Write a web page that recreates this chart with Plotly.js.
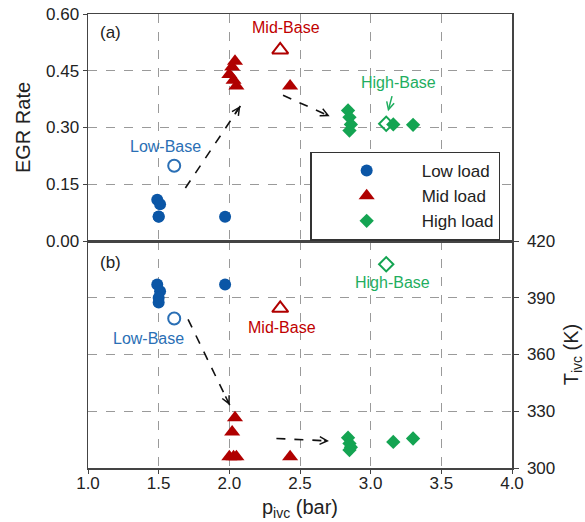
<!DOCTYPE html>
<html>
<head>
<meta charset="utf-8">
<script src="https://cdn.plot.ly/plotly-3.0.1.min.js"></script>
<style>html,body{margin:0;padding:0;background:#fff;}#chart{width:585px;height:522px;}</style>
</head>
<body>
<div id="chart"></div>
<script>
// ---- data ----
var lowP   = [1.49, 1.51, 1.50, 1.50, 1.97];
var lowEGR = [0.109, 0.097, 0.064, 0.065, 0.064];
var lowT   = [397, 393.5, 390, 387.5, 397];

var midP   = [2.04, 2.02, 2.00, 2.03, 2.05, 2.43];
var midEGR = [0.475, 0.46, 0.44, 0.425, 0.41, 0.41];
var midT   = [326.5, 319, 306, 306, 306, 306];

var highP   = [2.84, 2.85, 2.86, 2.85, 3.16, 3.30];
var highEGR = [0.345, 0.327, 0.308, 0.292, 0.308, 0.307];
var highT   = [316, 313, 311, 309.5, 313.8, 315.6];

var baseNames = ["Low-Base", "Mid-Base", "High-Base"];
var baseP     = [1.61, 2.36, 3.11];
var baseEGR   = [0.199, 0.505, 0.310];
var baseT     = [379, 384.4, 407.7];

var seriesNames = ["Low load", "Mid load", "High load"];
var xTicks = [1.0, 1.5, 2.0, 2.5, 3.0, 3.5, 4.0];
var egrTicks = [0.00, 0.15, 0.30, 0.45, 0.60];
var tTicks = [300, 330, 360, 390, 420];

// label positions (data coords) for the "Base" texts
var labEGRpos = [[1.549, 0.250], [2.398, 0.565], [3.199, 0.419]];
var labTpos   = [[1.43, 368.5], [2.371, 374.1], [3.157, 397.9]];

// dashed trend arrows: [tailX, tailY, headX, headY]
var arrowsEGR = [[1.689, 0.140, 2.078, 0.357], [2.38, 0.385, 2.71, 0.330]];
var arrowsT   = [[1.708, 378.6, 2.003, 333.2], [2.333, 315.6, 2.705, 314.3]];
var highBaseArrow = [3.154, 0.387, 3.123, 0.343];

// ---- styles ----
var BLUE = '#0b56a6', RED = '#b00000', GREEN = '#14a452';
var TBLUE = '#2a6fb5', TRED = '#c00000', TGREEN = '#1fae5f';
var FONT = 'Liberation Sans, Arial, sans-serif';

var traces = [
  {x: lowP, y: lowEGR, xaxis: 'x2', yaxis: 'y', mode: 'markers', name: seriesNames[0], legendrank: 1,
   marker: {symbol: 'circle', size: 12, color: BLUE}},
  {x: midP, y: midEGR, xaxis: 'x2', yaxis: 'y', mode: 'markers', name: seriesNames[1], legendrank: 2,
   marker: {symbol: 'triangle-up', size: 14, color: RED}},
  {x: highP, y: highEGR, xaxis: 'x2', yaxis: 'y', mode: 'markers', name: seriesNames[2], legendrank: 3,
   marker: {symbol: 'diamond', size: 11, color: GREEN}},
  {x: [baseP[0]], y: [baseEGR[0]], xaxis: 'x2', yaxis: 'y', mode: 'markers', showlegend: false,
   marker: {symbol: 'circle-open', size: 12, color: TBLUE, line: {width: 2}}},
  {x: [baseP[1]], y: [baseEGR[1]], xaxis: 'x2', yaxis: 'y', mode: 'markers', showlegend: false,
   marker: {symbol: 'triangle-up-open', size: 14, color: RED, line: {width: 2}}},
  {x: [baseP[2]], y: [baseEGR[2]], xaxis: 'x2', yaxis: 'y', mode: 'markers', showlegend: false,
   marker: {symbol: 'diamond-open', size: 11, color: GREEN, line: {width: 2}}},

  {x: lowP, y: lowT, xaxis: 'x', yaxis: 'y2', mode: 'markers', showlegend: false,
   marker: {symbol: 'circle', size: 12, color: BLUE}},
  {x: midP, y: midT, xaxis: 'x', yaxis: 'y2', mode: 'markers', showlegend: false,
   marker: {symbol: 'triangle-up', size: 14, color: RED}},
  {x: highP, y: highT, xaxis: 'x', yaxis: 'y2', mode: 'markers', showlegend: false,
   marker: {symbol: 'diamond', size: 11, color: GREEN}},
  {x: [baseP[0]], y: [baseT[0]], xaxis: 'x', yaxis: 'y2', mode: 'markers', showlegend: false,
   marker: {symbol: 'circle-open', size: 12, color: TBLUE, line: {width: 2}}},
  {x: [baseP[1]], y: [baseT[1]], xaxis: 'x', yaxis: 'y2', mode: 'markers', showlegend: false,
   marker: {symbol: 'triangle-up-open', size: 14, color: RED, line: {width: 2}}},
  {x: [baseP[2]], y: [baseT[2]], xaxis: 'x', yaxis: 'y2', mode: 'markers', showlegend: false,
   marker: {symbol: 'diamond-open', size: 11, color: GREEN, line: {width: 2}}}
];

var labColors = [TBLUE, TRED, TGREEN];
var annotations = [
  {xref: 'paper', yref: 'paper', x: 0.054, y: 0.960, xanchor: 'center', yanchor: 'middle', text: '(a)',
   showarrow: false, font: {size: 17, color: '#222', family: FONT}},
  {xref: 'paper', yref: 'paper', x: 0.054, y: 0.4537, xanchor: 'center', yanchor: 'middle', text: '(b)',
   showarrow: false, font: {size: 17, color: '#222', family: FONT}}
];
for (var i = 0; i < 3; i++) {
  annotations.push({xref: 'x2', yref: 'y', x: labEGRpos[i][0], y: labEGRpos[i][1], text: baseNames[i],
    showarrow: false, font: {size: 16, color: labColors[i], family: FONT}});
  annotations.push({xref: 'x', yref: 'y2', x: labTpos[i][0], y: labTpos[i][1], text: baseNames[i],
    showarrow: false, font: {size: 16, color: labColors[i], family: FONT}});
}
var shapes = [];
function addDashedArrow(a, xr, yr) {
  shapes.push({type: 'line', xref: xr, yref: yr, x0: a[0], y0: a[1], x1: a[2], y1: a[3],
    line: {color: '#111', width: 1.6, dash: 'dash'}});
  var f = 0.12;
  annotations.push({xref: xr, yref: yr, axref: xr, ayref: yr, x: a[2], y: a[3],
    ax: a[2] - (a[2] - a[0]) * f, ay: a[3] - (a[3] - a[1]) * f, text: '', showarrow: true,
    arrowhead: 5, arrowsize: 1, arrowwidth: 1.5, arrowcolor: '#111'});
}
arrowsEGR.forEach(function (a) { addDashedArrow(a, 'x2', 'y'); });
arrowsT.forEach(function (a) { addDashedArrow(a, 'x', 'y2'); });
annotations.push({xref: 'x2', yref: 'y', axref: 'x2', ayref: 'y', x: highBaseArrow[2], y: highBaseArrow[3],
  ax: highBaseArrow[0], ay: highBaseArrow[1], text: '', showarrow: true,
  arrowhead: 5, arrowsize: 1, arrowwidth: 1.5, arrowcolor: TGREEN});

var axLine = {showline: true, linecolor: '#444', linewidth: 1.5, mirror: true,
  showgrid: true, gridcolor: '#9a9a9a', griddash: 'dash', gridwidth: 1, zeroline: false};
function ax(o) { var r = {}; for (var k in axLine) r[k] = axLine[k]; for (var k2 in o) r[k2] = o[k2]; return r; }

var layout = {
  width: 585, height: 522,
  margin: {l: 88, r: 73, t: 14, b: 54},
  paper_bgcolor: '#fff', plot_bgcolor: '#fff',
  font: {family: FONT, size: 17, color: '#222'},
  showlegend: true,
  legend: {x: 0.524, y: 0.697, xanchor: 'left', yanchor: 'top', bgcolor: '#fff',
    bordercolor: '#333', borderwidth: 1.5, font: {size: 17, color: '#222'},
    itemwidth: 100, traceorder: 'normal'},
  xaxis: ax({anchor: 'y2', domain: [0, 1], range: [1, 4], tickvals: xTicks, tickformat: '.1f',
    ticks: 'outside', ticklen: 4, tickcolor: '#444', ticklabelstandoff: -5,
    title: {text: 'p<sub>ivc</sub> (bar)', font: {size: 20}, standoff: 8}}),
  xaxis2: ax({anchor: 'y', domain: [0, 1], range: [1, 4], matches: 'x', tickvals: xTicks,
    showticklabels: false, ticks: ''}),
  yaxis: ax({anchor: 'x2', domain: [0.5, 1], range: [0, 0.6], tickvals: egrTicks, tickformat: '.2f',
    ticks: 'outside', ticklen: 4, tickcolor: '#444', side: 'left',
    title: {text: 'EGR Rate', font: {size: 20}, standoff: 10}}),
  yaxis2: ax({anchor: 'x', domain: [0, 0.5], range: [300, 420], tickvals: tTicks,
    ticks: 'outside', ticklen: 5, tickcolor: '#444', side: 'right', ticklabelstandoff: 5,
    title: {text: 'T<sub>ivc</sub> (K)', font: {size: 20}, standoff: 18}}),
  shapes: shapes,
  annotations: annotations
};

Plotly.newPlot('chart', traces, layout, {displayModeBar: false, staticPlot: true});
</script>
</body>
</html>
